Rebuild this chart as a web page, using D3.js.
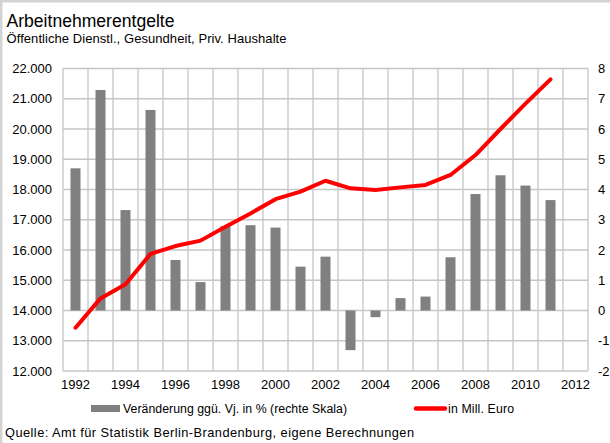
<!DOCTYPE html>
<html>
<head>
<meta charset="utf-8">
<script src="https://cdn.jsdelivr.net/npm/d3@7/dist/d3.min.js"></script>
<style>
  html, body { margin: 0; padding: 0; background: #fff; }
  svg { display: block; font-family: "Liberation Sans", Arial, sans-serif; }
</style>
</head>
<body>
<svg id="chart" width="610" height="443"></svg>
<script>
// Arbeitnehmerentgelte, Berlin-Brandenburg
const years = [1992, 1993, 1994, 1995, 1996, 1997, 1998, 1999, 2000, 2001,
               2002, 2003, 2004, 2005, 2006, 2007, 2008, 2009, 2010, 2011];
const axisYears = years.concat([2012]);
// Mill. Euro (left axis)
const millEuro = [13430, 14400, 14870, 15870, 16130, 16310, 16770, 17210, 17680, 17930,
                  18290, 18040, 17980, 18070, 18150, 18480, 19140, 20000, 20840, 21640];
// change vs. previous year in % (right axis)
const changePct = [4.70, 7.29, 3.32, 6.63, 1.67, 0.94, 2.79, 2.82, 2.74, 1.45,
                   1.78, -1.31, -0.22, 0.41, 0.46, 1.76, 3.85, 4.47, 4.13, 3.65];
const leftTicks = [12000, 13000, 14000, 15000, 16000, 17000, 18000, 19000, 20000, 21000, 22000];
const rightTicks = [-2, -1, 0, 1, 2, 3, 4, 5, 6, 7, 8];
const yearLabels = [1992, 1994, 1996, 1998, 2000, 2002, 2004, 2006, 2008, 2010, 2012];

const title = "Arbeitnehmerentgelte";
const subtitle = "Öffentliche Dienstl., Gesundheit, Priv. Haushalte";
const legendBars = "Veränderung ggü. Vj. in % (rechte Skala)";
const legendLine = "in Mill. Euro";
const source = "Quelle: Amt für Statistik Berlin-Brandenburg, eigene Berechnungen";

const de = d3.formatLocale({ decimal: ",", thousands: ".", grouping: [3], currency: ["", " €"], minus: "-" });
const fmtThousands = de.format(",.0f");
const fmtInt = de.format("d");

const svg = d3.select("#chart");
const plot = { left: 63, right: 588, top: 68.5, bottom: 371 };
const gridColor = "#c6c6c6";

// outer frame (top and left edges)
svg.append("path")
  .attr("d", "M1.2,443 V1.2 H610")
  .attr("fill", "none").attr("stroke", "#d3d3d3").attr("stroke-width", 2.4);

// scales
const xBand = d3.scaleBand().domain(axisYears).range([plot.left, plot.right])
  .paddingInner(0.6).paddingOuter(0.3);
const xEdge = d3.scaleLinear().domain([1992, 2013]).range([plot.left, plot.right]);
const yLeft = d3.scaleLinear().domain([12000, 22000]).range([plot.bottom, plot.top]);
const yRight = d3.scaleLinear().domain([-2, 8]).range([plot.bottom, plot.top]);

// grid
const grid = svg.append("g").attr("stroke", gridColor).attr("stroke-width", 1.3);
grid.selectAll("line.h").data(leftTicks).join("line")
  .attr("x1", plot.left).attr("x2", plot.right)
  .attr("y1", d => yLeft(d)).attr("y2", d => yLeft(d));
grid.selectAll("line.v").data(d3.range(1992, 2014)).join("line")
  .attr("x1", d => xEdge(d)).attr("x2", d => xEdge(d))
  .attr("y1", plot.top).attr("y2", plot.bottom);

// axes (labels only)
const axisFont = g => g.call(s => s.select(".domain").remove())
  .selectAll("text").attr("font-size", 13).attr("fill", "#000")
  .attr("font-family", "Liberation Sans, Arial, sans-serif");

svg.append("g").attr("transform", `translate(${plot.left},0)`)
  .call(d3.axisLeft(yLeft).tickValues(leftTicks).tickFormat(fmtThousands).tickSize(0).tickPadding(11))
  .call(axisFont).call(g => g.selectAll("line").remove());

svg.append("g").attr("transform", `translate(${plot.right},0)`)
  .call(d3.axisRight(yRight).tickValues(rightTicks).tickFormat(fmtInt).tickSize(0).tickPadding(10))
  .call(axisFont).call(g => g.selectAll("line").remove());

svg.append("g").attr("transform", `translate(0,${plot.bottom})`)
  .call(d3.axisBottom(xBand).tickValues(yearLabels).tickSize(0).tickPadding(9))
  .call(axisFont).call(g => g.selectAll("line").remove());

// bars: change in %
svg.append("g").attr("fill", "#808080")
  .selectAll("rect").data(years).join("rect")
  .attr("x", d => xBand(d))
  .attr("width", xBand.bandwidth())
  .attr("y", (d, i) => Math.min(yRight(changePct[i]), yRight(0)))
  .attr("height", (d, i) => Math.abs(yRight(changePct[i]) - yRight(0)));

// line: Mill. Euro
const line = d3.line()
  .x((d, i) => xBand(years[i]) + xBand.bandwidth() / 2)
  .y(d => yLeft(d));
svg.append("path").datum(millEuro)
  .attr("d", line)
  .attr("fill", "none").attr("stroke", "#ff0000").attr("stroke-width", 4)
  .attr("stroke-linejoin", "round").attr("stroke-linecap", "round");

// titles
svg.append("text").attr("x", 6.5).attr("y", 27).attr("font-size", 17.5)
  .attr("textLength", 168).attr("lengthAdjust", "spacingAndGlyphs").text(title);
svg.append("text").attr("x", 6.5).attr("y", 43).attr("font-size", 13)
  .attr("textLength", 280).attr("lengthAdjust", "spacing").text(subtitle);

// legend
const lg = svg.append("g");
lg.append("rect").attr("x", 91).attr("y", 405).attr("width", 29).attr("height", 7).attr("fill", "#808080");
lg.append("text").attr("x", 123).attr("y", 413).attr("font-size", 12.3)
  .attr("textLength", 224).attr("lengthAdjust", "spacing").text(legendBars);
lg.append("line").attr("x1", 416).attr("x2", 445).attr("y1", 408.5).attr("y2", 408.5)
  .attr("stroke", "#ff0000").attr("stroke-width", 4.5).attr("stroke-linecap", "round");
lg.append("text").attr("x", 448).attr("y", 413).attr("font-size", 12.3)
  .attr("textLength", 66).attr("lengthAdjust", "spacing").text(legendLine);

// source
svg.append("text").attr("x", 5).attr("y", 437).attr("font-size", 12.8)
  .attr("textLength", 409).attr("lengthAdjust", "spacing").text(source);
</script>
</body>
</html>
